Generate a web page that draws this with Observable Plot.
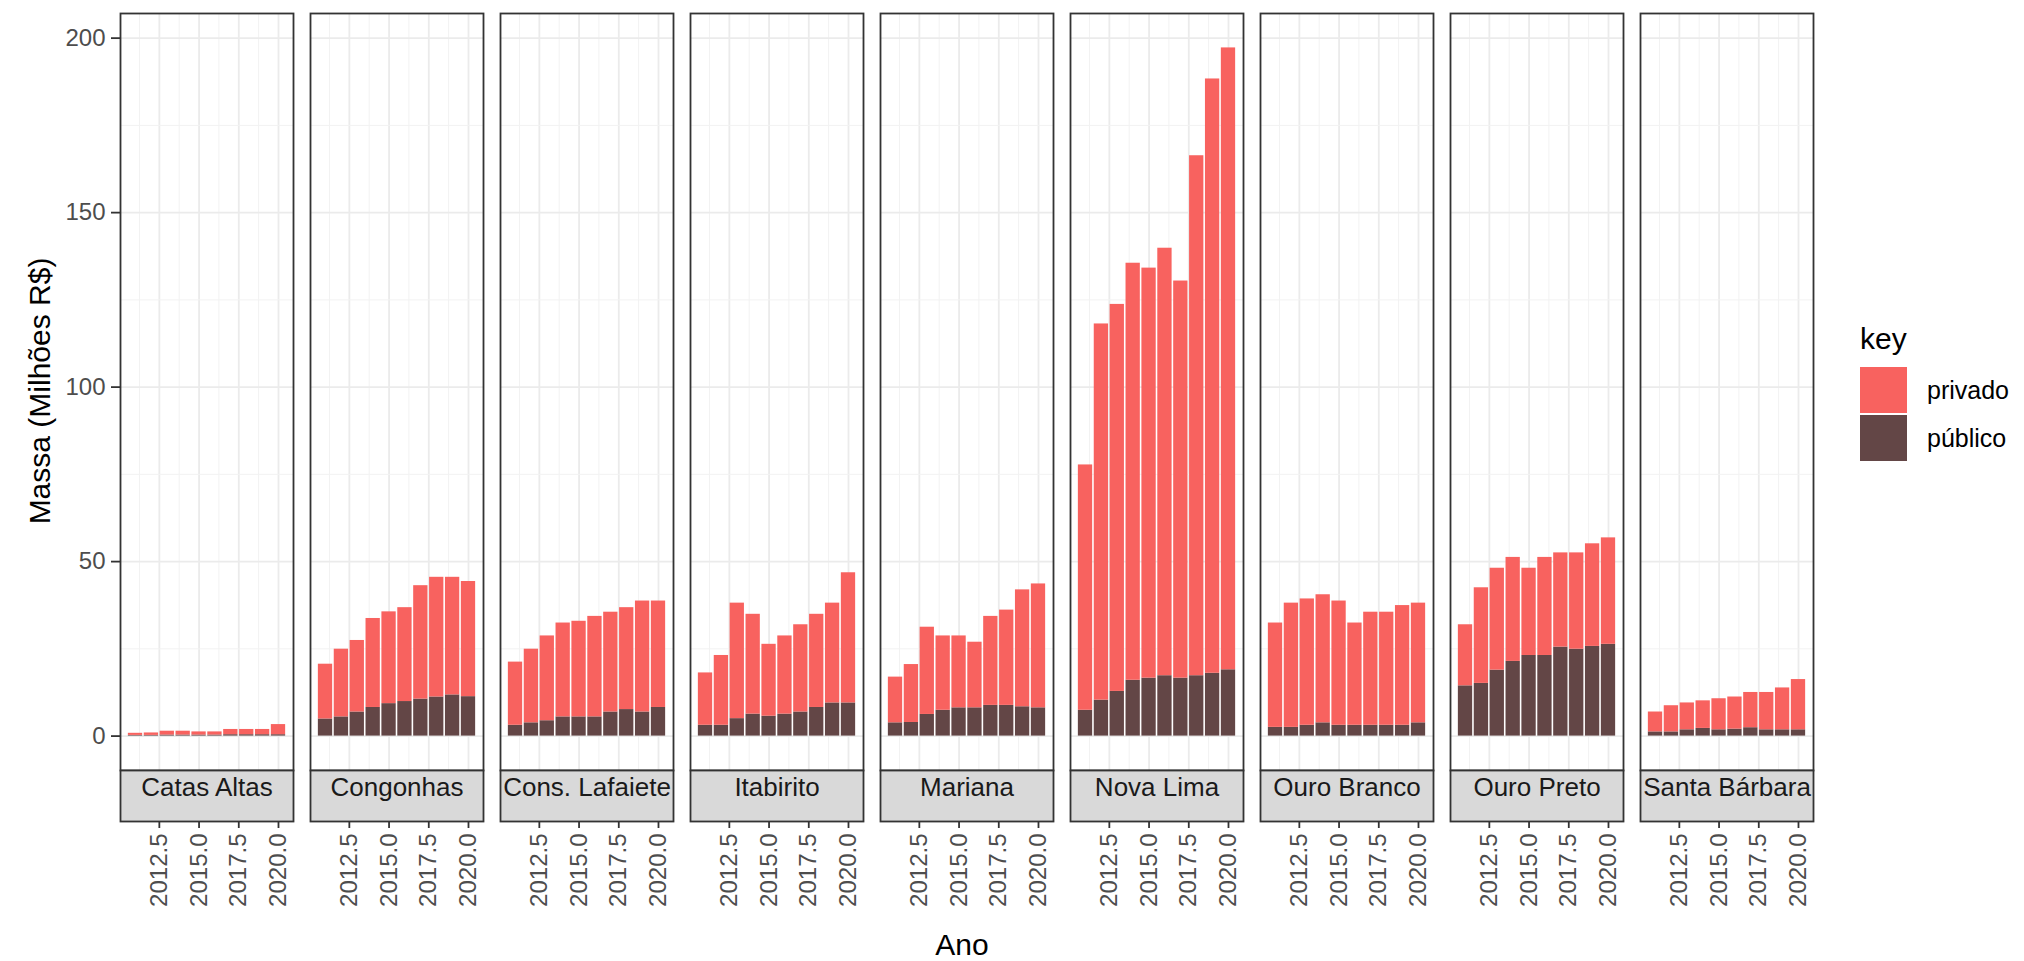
<!DOCTYPE html>
<html><head><meta charset="utf-8">
<script src="https://cdn.jsdelivr.net/npm/d3@7"></script>
<script src="https://cdn.jsdelivr.net/npm/@observablehq/plot@0.6"></script>
<style>
body{margin:0;background:#fff;font-family:"Liberation Sans",Arial,sans-serif;}
#wrap{position:relative;width:2024px;height:961px;overflow:hidden;}
.ttl{position:absolute;font-size:30px;color:#000;white-space:nowrap;transform:translate(-50%,-50%);}
#ytitle{transform:translate(-50%,-50%) rotate(-90deg);}
#legend{position:absolute;left:1860px;top:322px;font-size:25px;color:#000;}
#legend .k{font-size:30px;margin-bottom:10px;}
#legend .row{display:flex;align-items:center;height:48px;}
#legend .sw{width:47px;height:46px;margin-right:20px;}
</style></head><body><div id="wrap"></div>
<script>
const years = [2011, 2012, 2013, 2014, 2015, 2016, 2017, 2018, 2019, 2020];
const municipios = ["Catas Altas", "Congonhas", "Cons. Lafaiete", "Itabirito", "Mariana", "Nova Lima", "Ouro Branco", "Ouro Preto", "Santa Bárbara"];
const keys = ["privado", "público"];

const privadoCatasAltas   = [0.6, 0.7, 1.1, 1.1, 0.9, 0.9, 1.5, 1.5, 1.5, 2.9];
const publicoCatasAltas   = [0.2, 0.2, 0.3, 0.3, 0.3, 0.3, 0.4, 0.4, 0.4, 0.4];
const privadoCongonhas    = [15.7, 19.4, 20.5, 25.5, 26.3, 26.9, 32.5, 34.3, 33.7, 33.0];
const publicoCongonhas    = [4.9, 5.5, 6.9, 8.2, 9.3, 9.9, 10.6, 11.2, 11.8, 11.3];
const privadoLafaiete     = [18.1, 21.1, 24.3, 26.9, 27.4, 28.8, 28.6, 29.2, 31.8, 30.5];
const publicoLafaiete     = [3.1, 3.8, 4.4, 5.5, 5.5, 5.5, 6.9, 7.6, 6.9, 8.2];
const privadoItabirito    = [15.0, 20.0, 33.1, 28.6, 20.6, 22.4, 25.0, 26.7, 28.6, 37.3];
const publicoItabirito    = [3.1, 3.1, 5.0, 6.3, 5.7, 6.3, 6.9, 8.2, 9.5, 9.5];
const privadoMariana      = [13.1, 16.6, 25.0, 21.3, 20.6, 18.8, 25.5, 27.3, 33.5, 35.5];
const publicoMariana      = [3.8, 3.9, 6.2, 7.4, 8.1, 8.1, 8.8, 8.8, 8.4, 8.1];
const privadoNovaLima     = [70.3, 107.8, 110.9, 119.5, 117.5, 122.5, 113.8, 149.0, 170.3, 178.2];
const publicoNovaLima     = [7.4, 10.3, 12.8, 16.0, 16.6, 17.3, 16.6, 17.3, 18.0, 19.0];
const privadoOuroBranco   = [29.9, 35.6, 36.2, 36.7, 35.6, 29.3, 32.4, 32.4, 34.3, 34.3];
const publicoOuroBranco   = [2.5, 2.5, 3.1, 3.8, 3.1, 3.1, 3.1, 3.1, 3.1, 3.8];
const privadoOuroPreto    = [17.5, 27.4, 29.2, 29.8, 25.0, 28.1, 27.0, 27.6, 29.4, 30.5];
const publicoOuroPreto    = [14.4, 15.1, 18.9, 21.4, 23.1, 23.1, 25.5, 24.9, 25.7, 26.3];
const privadoSantaBarbara = [5.7, 7.5, 7.7, 7.9, 8.9, 9.2, 10.1, 10.7, 12.0, 14.4];
const publicoSantaBarbara = [1.2, 1.2, 1.8, 2.2, 1.8, 2.0, 2.4, 1.8, 1.8, 1.8];

const privadoSeries = [privadoCatasAltas, privadoCongonhas, privadoLafaiete, privadoItabirito, privadoMariana, privadoNovaLima, privadoOuroBranco, privadoOuroPreto, privadoSantaBarbara];
const publicoSeries = [publicoCatasAltas, publicoCongonhas, publicoLafaiete, publicoItabirito, publicoMariana, publicoNovaLima, publicoOuroBranco, publicoOuroPreto, publicoSantaBarbara];

const xTicks = [2012.5, 2015.0, 2017.5, 2020.0];
const xMinor = [2011.25, 2013.75, 2016.25, 2018.75];
const yTicks = [0, 50, 100, 150, 200];
const yMinor = [25, 75, 125, 175];

const colors = ["#f8625f", "#634646"];
const barWidth = 0.9;

const table = [];
municipios.forEach((m, i) => {
  years.forEach((yr, j) => {
    table.push({municipio: m, year: yr, x1: yr - barWidth / 2, x2: yr + barWidth / 2, key: "público", value: publicoSeries[i][j]});
    table.push({municipio: m, year: yr, x1: yr - barWidth / 2, x2: yr + barWidth / 2, key: "privado", value: privadoSeries[i][j]});
  });
});

// ggplot-like expansion of the scales
const xlo = d3.min(years) - barWidth / 2, xhi = d3.max(years) + barWidth / 2;
const xpad = (xhi - xlo) * 0.05;
const totals = table.length ? d3.rollups(table, v => d3.sum(v, d => d.value), d => d.municipio, d => d.year).flatMap(([, a]) => a.map(([, s]) => s)) : [0];
const ymax = d3.max(totals);
const ypad = ymax * 0.05;

const chart = Plot.plot({
  width: 2024,
  height: 961,
  marginLeft: 120,
  marginRight: 211,
  marginTop: 13,
  marginBottom: 140,
  style: {fontFamily: "'Liberation Sans', Arial, sans-serif", fontSize: "24px", background: "white"},
  fx: {domain: municipios, axis: null, paddingInner: 0.0895, paddingOuter: 0},
  x: {domain: [xlo - xpad, xhi + xpad], axis: null},
  y: {domain: [-ypad, ymax + ypad], range: [770, 13], axis: null},
  color: {domain: keys, range: colors},
  marks: [
    Plot.gridX(xMinor, {stroke: "#f2f2f2", strokeOpacity: 1, strokeWidth: 1}),
    Plot.gridX(xTicks, {stroke: "#ebebeb", strokeOpacity: 1, strokeWidth: 1.8}),
    Plot.gridY(yMinor, {stroke: "#f2f2f2", strokeOpacity: 1, strokeWidth: 1}),
    Plot.gridY(yTicks, {stroke: "#ebebeb", strokeOpacity: 1, strokeWidth: 1.8}),
    Plot.rectY(table, Plot.stackY({x1: "x1", x2: "x2", y: "value", fill: "key", fx: "municipio", order: ["público", "privado"]})),
    Plot.frame({stroke: "#333333", strokeWidth: 1.8, insetBottom: 51}),
    Plot.frame({fill: "#d9d9d9", stroke: "#333333", strokeWidth: 1.8, insetTop: 757}),
    Plot.text(municipios, {fx: d => d, text: d => d, frameAnchor: "bottom", dy: -25.5, fontSize: 26, fill: "#1a1a1a"}),
    Plot.axisX({ticks: xTicks, tickFormat: d3.format(".1f"), tickRotate: -90, tickSize: 7, tickPadding: 5, fontSize: 24, stroke: "#333333", fill: "#4d4d4d", strokeWidth: 1.8, label: null}),
    Plot.axisY({ticks: yTicks, tickSize: 9, tickPadding: 6, fontSize: 24, stroke: "#333333", fill: "#4d4d4d", strokeWidth: 1.8, label: null})
  ]
});

const wrap = document.getElementById("wrap");
wrap.appendChild(chart);

const yt = document.createElement("div");
yt.className = "ttl"; yt.id = "ytitle"; yt.textContent = "Massa (Milhões R$)";
yt.style.left = "40px"; yt.style.top = "391px";
wrap.appendChild(yt);

const xt = document.createElement("div");
xt.className = "ttl"; xt.textContent = "Ano";
xt.style.left = "962px"; xt.style.top = "945px";
wrap.appendChild(xt);

const leg = document.createElement("div");
leg.id = "legend";
leg.innerHTML = `<div class="k">key</div>` + keys.map((k, i) =>
  `<div class="row"><div class="sw" style="background:${colors[i]}"></div><span>${k}</span></div>`).join("");
wrap.appendChild(leg);
</script>
</body></html>
